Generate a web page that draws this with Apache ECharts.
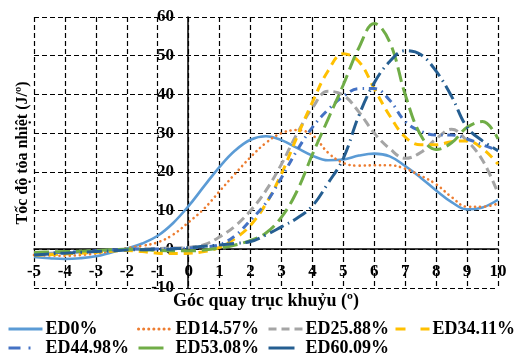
<!DOCTYPE html>
<html>
<head>
<meta charset="utf-8">
<script src="https://cdn.jsdelivr.net/npm/echarts@6/dist/echarts.min.js"></script>
<style>
  html, body { margin: 0; padding: 0; background: #fff; }
  #chart { width: 520px; height: 356px; }
</style>
</head>
<body>
<div id="chart"></div>
<script>
// Crank angle samples (degrees)
const crankAngle = [-5, -4.5, -4, -3.5, -3, -2.5, -2, -1.5, -1, -0.5, 0, 0.5, 1, 1.5, 2, 2.5, 3, 3.5, 4, 4.5, 5, 5.5, 6, 6.5, 7, 7.5, 8, 8.5, 9, 9.5, 10];

// Heat release rate (J/deg) for each blend
const ed0     = [-2, -2.3, -2.5, -2.3, -1.8, -0.8, 0.2, 1.5, 3.5, 6.8, 11.2, 16.3, 21.3, 25.5, 28.3, 29.2, 28.2, 26.2, 24.2, 23.0, 23.2, 24.2, 24.7, 24.0, 21.5, 18.5, 15.2, 12.2, 10.3, 10.8, 12.8];
const ed1457  = [-1.5, -1.6, -1.7, -1.5, -1.1, -0.5, 0.3, 0.9, 1.8, 3.8, 7, 10.5, 15, 19.5, 23.8, 27.5, 30, 30.8, 29.5, 25, 22.3, 21.6, 21.7, 21.7, 20.8, 19, 16.8, 13.5, 11, 11, 11.8];
const ed2588  = [-1, -1, -0.9, -0.7, -0.5, -0.2, 0, 0.1, 0.2, 0.3, 0.5, 1.2, 3.2, 6, 10, 15.2, 22, 29.8, 36.5, 40.8, 39.8, 35.5, 30, 26, 23.5, 25, 28.5, 31, 28, 23, 14.5];
const ed3411  = [-1.5, -1.4, -1.2, -1, -0.8, -0.5, -0.3, -0.6, -1, -1.1, -1, -0.6, 0.5, 2.8, 6.2, 11.8, 19.5, 29, 38, 46, 50.5, 48.5, 41.5, 34.5, 29, 27, 27, 27.8, 28, 26, 22];
const ed4498  = [-1, -0.9, -0.8, -0.6, -0.4, -0.2, 0, 0.1, 0.1, 0.2, 0.3, 0.6, 1.2, 3.5, 7.5, 12, 18.5, 25.5, 31.5, 36, 39.5, 41.5, 41.5, 38.5, 33, 30.5, 29.5, 29.5, 28.5, 27, 25.5];
const ed5308  = [-0.8, -0.7, -0.6, -0.5, -0.3, -0.1, 0, -0.1, -0.3, -0.4, -0.4, -0.2, 0.3, 1.1, 2.3, 4.2, 8.3, 15, 24.5, 33.5, 42.5, 52, 58.3, 53.5, 40, 29.5, 25.8, 27.5, 31.5, 33, 28.5];
const ed6009  = [-1.5, -1.2, -1, -0.8, -0.6, -0.4, -0.2, -0.1, 0, 0.1, 0.4, 0.8, 1.1, 1.5, 2, 3.7, 5.8, 8, 11.2, 17, 23.5, 34.5, 43, 48.5, 51.3, 50.3, 46, 39.5, 31.5, 28, 25.5];

const seriesNames = ['ED0%', 'ED14.57%', 'ED25.88%', 'ED34.11%', 'ED44.98%', 'ED53.08%', 'ED60.09%'];
const seriesValues = [ed0, ed1457, ed2588, ed3411, ed4498, ed5308, ed6009];

const xTitle = 'Góc quay trục khuỷu (º)';
const yTitle = 'Tốc độ tỏa nhiệt (J/º)';

const serif = "'Liberation Serif', 'Times New Roman', serif";

// Stroke style of each curve and its legend swatch
const styles = [
  { color: '#5B9BD5', width: 2.6, type: 'solid', cap: 'butt', legendType: 'solid' },
  { color: '#ED7D31', width: 2.6, type: [0.1, 5], cap: 'round', legendType: [0.1, 5] },
  { color: '#A5A5A5', width: 3, type: [9, 5], cap: 'butt', legendType: [8, 5] },
  { color: '#FFC000', width: 3, type: [9, 6], cap: 'butt', legendType: [10, 15] },
  { color: '#4472C4', width: 3, type: [8, 5, 1.5, 5], cap: 'butt', legendType: [12, 8, 2, 14] },
  { color: '#70AD47', width: 3, type: [15, 6], cap: 'butt', legendType: [25, 20] },
  { color: '#255E91', width: 3, type: [15, 5, 1.5, 5], cap: 'butt', legendType: [26, 20] }
];

// Legend cells laid out as a two-row table
const legendCells = [
  { left: 7, top: 320 }, { left: 137, top: 320 }, { left: 267, top: 320 }, { left: 394, top: 320 },
  { left: 7, top: 339 }, { left: 137, top: 339 }, { left: 267, top: 339 }
];

const series = seriesNames.map((name, i) => ({
  name: name,
  type: 'line',
  smooth: 0.4,
  symbol: 'none',
  data: crankAngle.map((x, j) => [x, seriesValues[i][j]]),
  lineStyle: { color: styles[i].color, width: styles[i].width, type: styles[i].type, cap: styles[i].cap },
  itemStyle: { color: styles[i].color },
  emphasis: { disabled: true },
  animation: false
}));

const legends = seriesNames.map((name, i) => ({
  data: [name],
  left: legendCells[i].left,
  top: legendCells[i].top,
  orient: 'horizontal',
  itemWidth: 34,
  itemHeight: 14,
  itemGap: 0,
  padding: 0,
  selectedMode: false,
  itemStyle: { opacity: 0 },
  lineStyle: { type: styles[i].legendType, width: 3, cap: styles[i].cap },
  textStyle: { fontFamily: serif, fontWeight: 'bold', fontSize: 18, color: '#000', padding: [0, 0, 0, -2] }
}));

// Dashed black grid
const gridDash = { color: '#000', width: 1.2, type: [5, 3] };

const chart = echarts.init(document.getElementById('chart'), null, { renderer: 'canvas' });
chart.setOption({
  animation: false,
  backgroundColor: '#fff',
  grid: { left: 34, right: 22, top: 17, bottom: 68, containLabel: false },
  xAxis: {
    type: 'value',
    min: -5, max: 10, interval: 1,
    position: 'bottom',
    offset: -39,
    axisLine: { onZero: false, lineStyle: { color: '#000', width: 1.5 } },
    axisTick: { show: false },
    axisLabel: { margin: 14, fontFamily: serif, fontWeight: 'bold', fontSize: 17, color: '#000' },
    splitLine: { show: true, lineStyle: gridDash }
  },
  yAxis: {
    type: 'value',
    min: -10, max: 60, interval: 10,
    position: 'left',
    offset: -154,
    axisLine: { show: true, onZero: false, lineStyle: { color: '#000', width: 1.5 } },
    axisTick: { show: false },
    axisLabel: { margin: 14, fontFamily: serif, fontWeight: 'bold', fontSize: 17, color: '#000' },
    splitLine: { show: true, lineStyle: gridDash }
  },
  legend: legends,
  series: series,
  graphic: [
    {
      type: 'text', x: 266, y: 301,
      style: { text: xTitle, fontFamily: serif, fontWeight: 'bold', fontSize: 18, fill: '#000', align: 'center', verticalAlign: 'middle' }
    },
    {
      type: 'text', x: 23, y: 153, rotation: Math.PI / 2,
      style: { text: yTitle, fontFamily: serif, fontWeight: 'bold', fontSize: 16, fill: '#000', align: 'center', verticalAlign: 'middle' }
    }
  ]
});
</script>
</body>
</html>
